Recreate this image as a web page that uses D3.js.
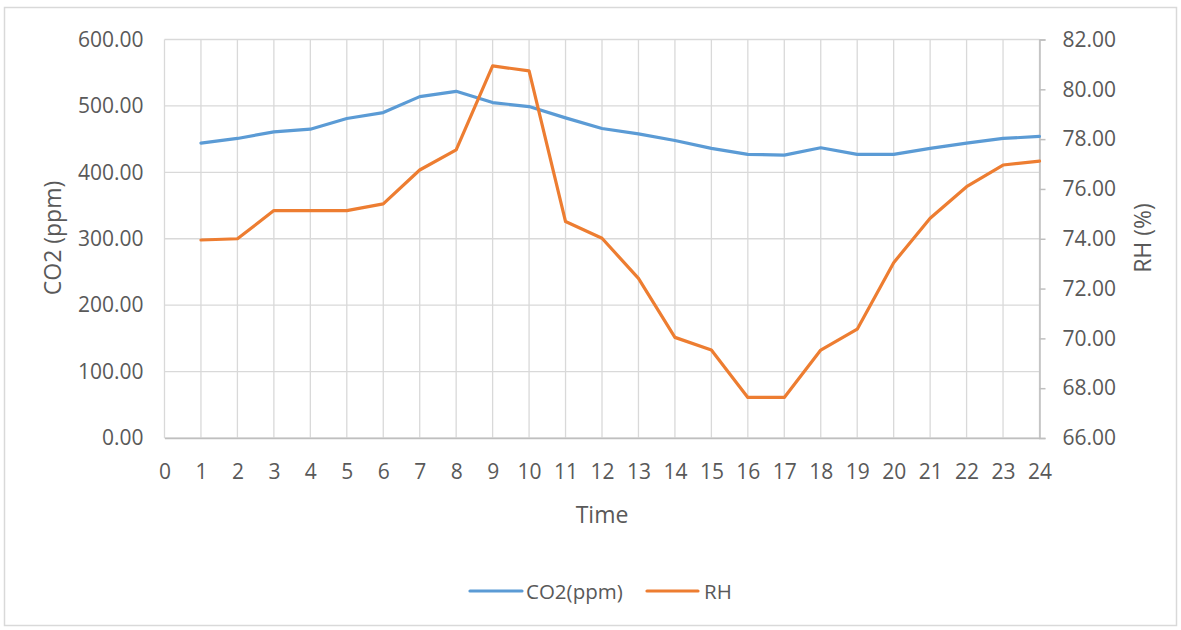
<!DOCTYPE html>
<html><head><meta charset="utf-8">
<script src="https://cdn.jsdelivr.net/npm/d3@7"></script>
<style>
html,body{margin:0;padding:0;background:#fff;}
svg{display:block;font-family:"Open Sans",sans-serif;}
</style></head>
<body>
<svg id="c" width="1181" height="630"></svg>
<script>
const hours = [1,2,3,4,5,6,7,8,9,10,11,12,13,14,15,16,17,18,19,20,21,22,23,24];
const co2 = [444,451,461,465,481,490,514,522,505,499,482,466,458,448,436,427,426,437,427,427,436,444,451,454];
const rh = [73.95,74.0,75.13,75.13,75.13,75.4,76.76,77.57,80.94,80.74,74.69,74.02,72.41,70.04,69.53,67.63,67.63,69.53,70.37,73.04,74.82,76.09,76.96,77.12];
const xTicks = d3.range(0,25);
const leftTicks = [0,100,200,300,400,500,600];
const rightTicks = [66,68,70,72,74,76,78,80,82];
const seriesNames = ["CO2(ppm)","RH"];
const colors = ["#5B9BD5","#ED7D31"];

const svg = d3.select("#c");
const txt = "#595959", grid = "#d9d9d9";

svg.append("rect").attr("x",4.5).attr("y",7.5).attr("width",1172).attr("height",618)
  .attr("fill","#fff").attr("stroke","#d9d9d9").attr("stroke-width",1.5);

const x = d3.scaleLinear().domain([0,24]).range([164.5,1039.5]);
const yL = d3.scaleLinear().domain([0,600]).range([438,39.5]);
const yR = d3.scaleLinear().domain([66,82]).range([438,39.5]);

// grid
svg.append("g").selectAll("line").data(leftTicks).join("line")
  .attr("x1",x(0)).attr("x2",x(24)).attr("y1",d=>yL(d)).attr("y2",d=>yL(d))
  .attr("stroke",grid).attr("stroke-width",1.3);
svg.append("g").selectAll("line").data(xTicks).join("line")
  .attr("x1",d=>x(d)).attr("x2",d=>x(d)).attr("y1",yL(0)).attr("y2",yL(600))
  .attr("stroke",grid).attr("stroke-width",1.3);

// bottom axis
const gx = svg.append("g").attr("transform",`translate(0,${yL(0)})`)
  .call(d3.axisBottom(x).tickValues(xTicks).tickFormat(d3.format("d")).tickSize(0).tickPadding(26));
gx.select(".domain").attr("stroke","#bfbfbf").attr("stroke-width",1.5);
gx.selectAll("text").attr("fill",txt).style("font-size","21px").style("font-family","Open Sans");

// left axis
const gl = svg.append("g").attr("transform",`translate(${x(0)},0)`)
  .call(d3.axisLeft(yL).tickValues(leftTicks).tickFormat(d3.format(".2f")).tickSize(0).tickPadding(21));
gl.select(".domain").remove();
gl.selectAll("text").attr("fill",txt).style("font-size","21px").style("font-family","Open Sans");

// right axis
const gr = svg.append("g").attr("transform",`translate(${x(24)},0)`)
  .call(d3.axisRight(yR).tickValues(rightTicks).tickFormat(d3.format(".2f")).tickSize(6).tickPadding(17));
gr.select(".domain").attr("stroke","#bfbfbf").attr("stroke-width",1.5);
gr.selectAll(".tick line").attr("stroke","#bfbfbf").attr("stroke-width",1.5);
gr.selectAll("text").attr("fill",txt).style("font-size","21px").style("font-family","Open Sans");

// titles
svg.append("text").attr("transform","translate(61,238) rotate(-90)").attr("text-anchor","middle")
  .attr("fill",txt).style("font-size","23px").text("CO2 (ppm)");
svg.append("text").attr("transform","translate(1151,238) rotate(-90)").attr("text-anchor","middle")
  .attr("fill",txt).style("font-size","23px").text("RH (%)");
svg.append("text").attr("x",602).attr("y",523).attr("text-anchor","middle")
  .attr("fill",txt).style("font-size","23px").text("Time");

// lines
const lineL = d3.line().x((d,i)=>x(hours[i])).y(d=>yL(d));
const lineR = d3.line().x((d,i)=>x(hours[i])).y(d=>yR(d));
svg.append("path").attr("d",lineL(co2)).attr("fill","none").attr("stroke",colors[0])
  .attr("stroke-width",3.2).attr("stroke-linejoin","round").attr("stroke-linecap","round");
svg.append("path").attr("d",lineR(rh)).attr("fill","none").attr("stroke",colors[1])
  .attr("stroke-width",3.2).attr("stroke-linejoin","round").attr("stroke-linecap","round");

// legend
const leg = [{x1:470,x2:522,tx:526},{x1:647,x2:698,tx:704}];
leg.forEach((l,i)=>{
  svg.append("line").attr("x1",l.x1).attr("x2",l.x2).attr("y1",591).attr("y2",591)
    .attr("stroke",colors[i]).attr("stroke-width",3.2).attr("stroke-linecap","round");
  svg.append("text").attr("x",l.tx).attr("y",598.5).attr("fill",txt).style("font-size","20.5px").text(seriesNames[i]);
});
</script>
</body></html>
